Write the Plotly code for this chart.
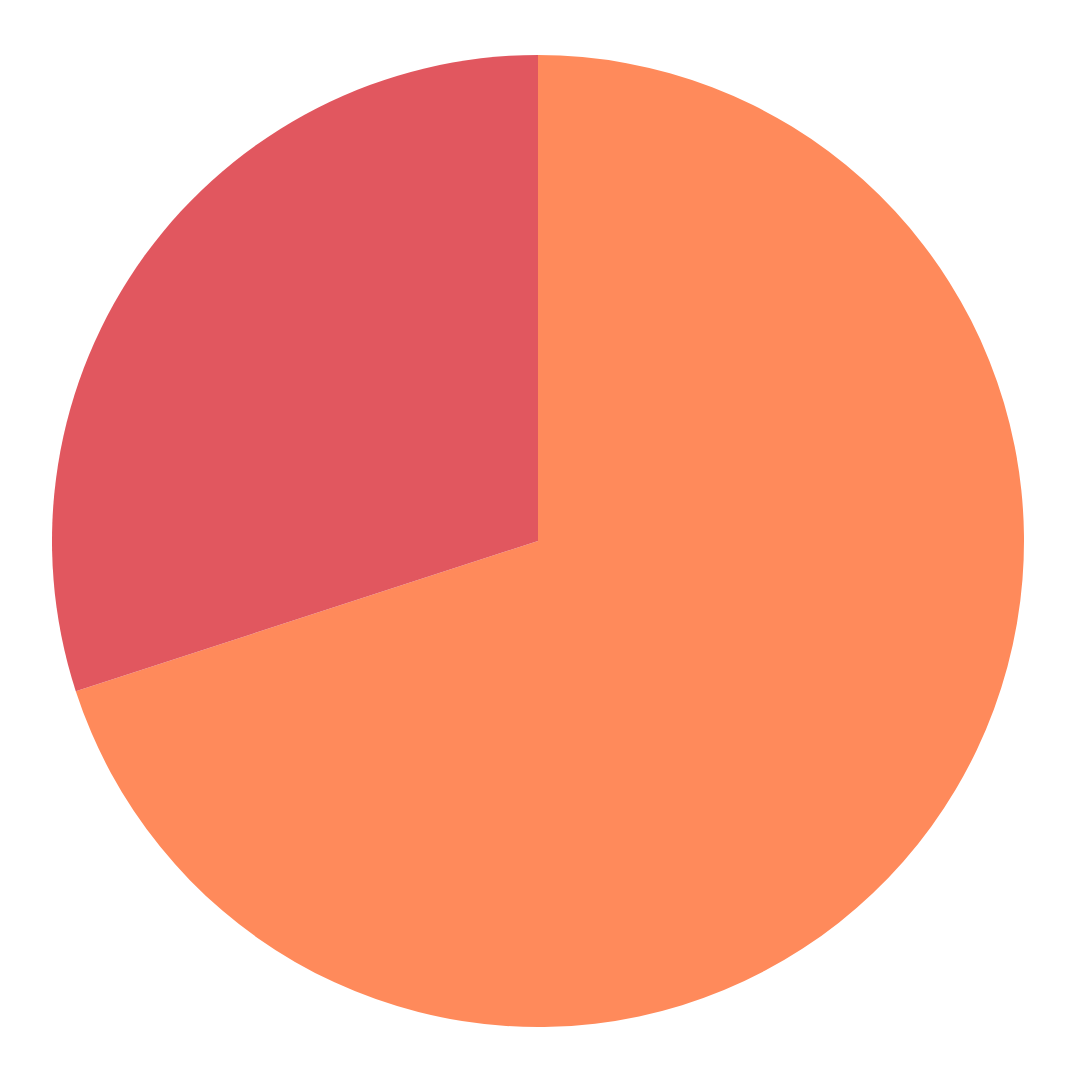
import plotly.graph_objects as go

labels = ["B", "A"]
values = [70, 30]
colors = ["#FF8A5B", "#E1575F"]

fig = go.Figure(go.Pie(
    labels=labels,
    values=values,
    sort=False,
    direction="clockwise",
    rotation=0,
    marker=dict(colors=colors, line=dict(width=0)),
    textinfo="none",
    hoverinfo="label+value+percent",
))
fig.update_layout(
    width=1080, height=1080,
    showlegend=False,
    margin=dict(l=44, r=64, t=47, b=61),
    paper_bgcolor="white",
    plot_bgcolor="white",
)
fig.write_html("out.html")
